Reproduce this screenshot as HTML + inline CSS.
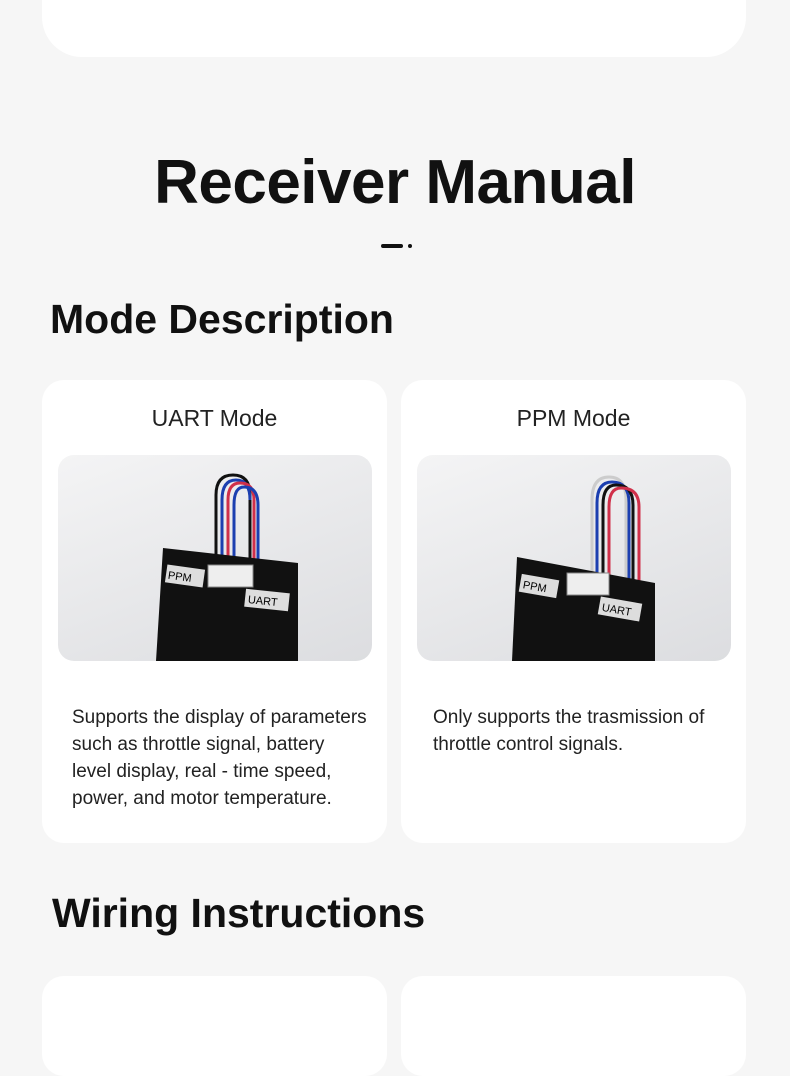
<!DOCTYPE html>
<html><head><meta charset="utf-8"><style>
*{margin:0;padding:0;box-sizing:border-box}
body{width:790px;height:1000px;background:#f6f6f6;position:relative;overflow:hidden;font-family:"Liberation Sans","Noto Sans CJK SC",sans-serif;color:#111}
.card{position:absolute;background:#fff;border-radius:22px}
.h1{position:absolute;left:0;width:790px;text-align:center;top:147px;font-size:62px;font-weight:bold;letter-spacing:-0.5px}
.h2{position:absolute;font-size:41px;font-weight:bold}
.ct{position:absolute;left:0;width:345px;text-align:center;top:25px;font-size:23px;color:#222}
.img{position:absolute;left:16px;top:75px;width:314px;height:206px;border-radius:16px;overflow:hidden;background:linear-gradient(160deg,#f4f4f5,#dcdde0)}
.txt{position:absolute;left:30px;top:324px;white-space:nowrap;font-size:19px;line-height:27px;color:#222}
</style></head><body>
<div class="card" style="left:42px;top:-40px;width:704px;height:97px;border-radius:40px"></div>
<div class="h1">Receiver Manual</div>
<div style="position:absolute;left:381px;top:244px;width:22px;height:4px;background:#111;border-radius:2px"></div>
<div style="position:absolute;left:408px;top:244px;width:4px;height:4px;background:#111;border-radius:2px"></div>
<div class="h2" style="left:50px;top:296px">Mode Description</div>

<div class="card" style="left:42px;top:380px;width:345px;height:463px">
<div class="ct">UART Mode</div>
<div class="img"><svg width="314" height="206">
<g fill="none" stroke-width="3"><path d="M158 115 V40 Q158 20 175 20 Q192 20 192 40 V115" stroke="#111"/><path d="M164 115 V45 Q164 25 178 25 Q192 25 192 45" stroke="#1c3fb0"/><path d="M170 115 V45 Q170 28 182 28 Q196 28 196 45 V115" stroke="#d0304a"/><path d="M176 115 V50 Q176 32 186 32 Q200 32 200 50 V115" stroke="#1c3fb0"/></g>
<polygon points="105,93 240,108 240,206 98,206" fill="#111"/>
<rect x="150" y="110" width="45" height="22" fill="#eee" stroke="#888"/>
<rect x="108" y="112" width="38" height="18" fill="#ddd" transform="rotate(8 127 121)"/><text x="110" y="126" font-size="11" font-family="Liberation Sans" transform="rotate(8 127 121)">PPM</text>
<rect x="187" y="136" width="44" height="18" fill="#ddd" transform="rotate(6 209 145)"/><text x="190" y="150" font-size="11" font-family="Liberation Sans" transform="rotate(6 209 145)">UART</text>
</svg></div>
<div class="txt">Supports the display of parameters<br>such as throttle signal, battery<br>level display, real - time speed,<br>power, and motor temperature.</div>
</div>

<div class="card" style="left:401px;top:380px;width:345px;height:463px">
<div class="ct">PPM Mode</div>
<div class="img"><svg width="314" height="206">
<g fill="none" stroke-width="3"><path d="M175 130 V45 Q175 22 192 22 Q209 22 209 45 V130" stroke="#ccc"/><path d="M180 130 V48 Q180 27 195 27 Q212 27 212 48 V130" stroke="#1c3fb0"/><path d="M186 130 V50 Q186 30 199 30 Q216 30 216 50 V130" stroke="#111"/><path d="M192 130 V52 Q192 33 204 33 Q222 33 222 52 V130" stroke="#d0304a"/></g>
<polygon points="100,102 238,128 238,206 95,206" fill="#111"/>
<rect x="150" y="118" width="42" height="22" fill="#eee" stroke="#888"/>
<rect x="103" y="122" width="38" height="18" fill="#ddd" transform="rotate(10 122 131)"/><text x="106" y="136" font-size="11" font-family="Liberation Sans" transform="rotate(10 122 131)">PPM</text>
<rect x="182" y="145" width="42" height="18" fill="#ddd" transform="rotate(10 203 154)"/><text x="185" y="159" font-size="11" font-family="Liberation Sans" transform="rotate(10 203 154)">UART</text>
</svg></div>
<div class="txt" style="left:32px">Only supports the trasmission of<br>throttle control signals.</div>
</div>

<div class="h2" style="left:52px;top:890px">Wiring Instructions</div>
<div class="card" style="left:42px;top:976px;width:345px;height:100px"></div>
<div class="card" style="left:401px;top:976px;width:345px;height:100px"></div>
</body></html>
